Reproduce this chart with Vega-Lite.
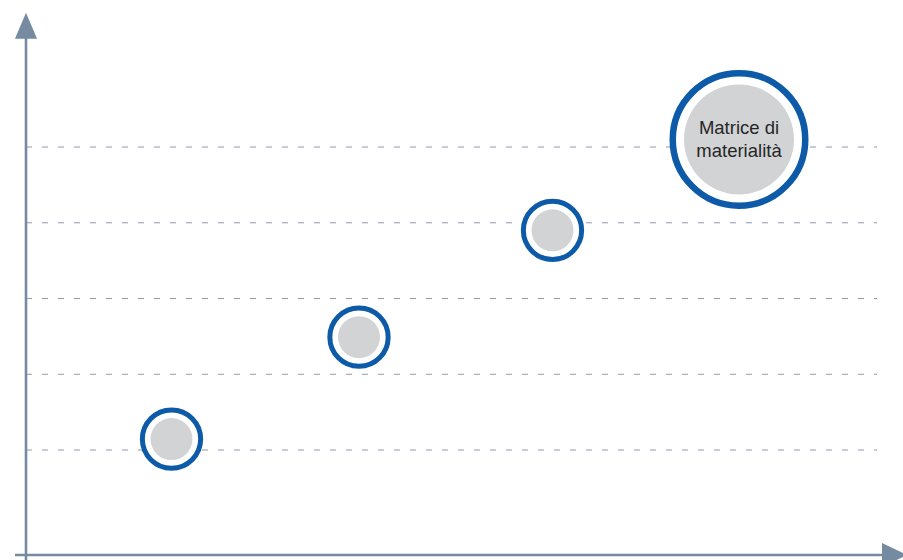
{
  "$schema": "https://vega.github.io/schema/vega-lite/v6.json",
  "width": 903,
  "height": 560,
  "padding": 0,
  "autosize": {"type": "none"},
  "background": "white",
  "config": {"view": {"stroke": null}},
  "datasets": {
    "tappe": [
      {"nome": "tappa 1", "tipo": "tappa", "x": 1.715, "y": 1.145},
      {"nome": "tappa 2", "tipo": "tappa", "x": 3.59, "y": 2.49},
      {"nome": "tappa 3", "tipo": "tappa", "x": 5.525, "y": 3.9},
      {"nome": "Matrice di\nmaterialità", "tipo": "matrice", "x": 7.39, "y": 5.1}
    ],
    "griglia": [{"livello": 1}, {"livello": 2}, {"livello": 3}, {"livello": 4}, {"livello": 5}]
  },
  "layer": [
    {
      "data": {"name": "griglia"},
      "mark": {"type": "rule", "stroke": "#8a9bae", "strokeWidth": 1, "strokeDash": [6, 10]},
      "encoding": {
        "y": {"field": "livello", "type": "quantitative", "scale": {"domain": [-0.452, 6.941], "nice": false, "zero": false}, "axis": null},
        "x": {"datum": 0.26, "type": "quantitative", "scale": {"domain": [0, 9.03], "nice": false, "zero": false}, "axis": null},
        "x2": {"datum": 8.77}
      }
    },
    {
      "data": {"values": [{}]},
      "mark": {"type": "rule", "stroke": "#768ba1", "strokeWidth": 2.6},
      "encoding": {
        "x": {"datum": 0.26, "type": "quantitative", "scale": {"domain": [0, 9.03], "nice": false, "zero": false}, "axis": null},
        "y": {"datum": -0.452, "type": "quantitative", "scale": {"domain": [-0.452, 6.941], "nice": false, "zero": false}, "axis": null},
        "y2": {"datum": 6.45}
      }
    },
    {
      "data": {"values": [{}]},
      "mark": {"type": "rule", "stroke": "#768ba1", "strokeWidth": 2.6},
      "encoding": {
        "y": {"datum": -0.386, "type": "quantitative", "scale": {"domain": [-0.452, 6.941], "nice": false, "zero": false}, "axis": null},
        "x": {"datum": 0.15, "type": "quantitative", "scale": {"domain": [0, 9.03], "nice": false, "zero": false}, "axis": null},
        "x2": {"datum": 8.85}
      }
    },
    {
      "data": {"values": [{}]},
      "mark": {"type": "point", "shape": "M0,-1L-0.85,1L0.85,1Z", "filled": true, "fill": "#768ba1", "opacity": 1, "size": 676, "strokeWidth": 0},
      "encoding": {
        "x": {"datum": 0.26, "type": "quantitative", "scale": {"domain": [0, 9.03], "nice": false, "zero": false}, "axis": null},
        "y": {"datum": 6.6, "type": "quantitative", "scale": {"domain": [-0.452, 6.941], "nice": false, "zero": false}, "axis": null}
      }
    },
    {
      "data": {"values": [{}]},
      "mark": {"type": "point", "shape": "M1,0L-1,-0.96L-1,0.96Z", "filled": true, "fill": "#768ba1", "opacity": 1, "size": 625, "strokeWidth": 0},
      "encoding": {
        "x": {"datum": 8.945, "type": "quantitative", "scale": {"domain": [0, 9.03], "nice": false, "zero": false}, "axis": null},
        "y": {"datum": -0.386, "type": "quantitative", "scale": {"domain": [-0.452, 6.941], "nice": false, "zero": false}, "axis": null}
      }
    },
    {
      "data": {"name": "tappe"},
      "transform": [{"filter": "datum.tipo === 'tappa'"}],
      "mark": {"type": "circle", "fill": "white", "stroke": "#0d5ba8", "strokeWidth": 5, "opacity": 1, "size": 3400},
      "encoding": {
        "x": {"field": "x", "type": "quantitative", "scale": {"domain": [0, 9.03], "nice": false, "zero": false}, "axis": null},
        "y": {"field": "y", "type": "quantitative", "scale": {"domain": [-0.452, 6.941], "nice": false, "zero": false}, "axis": null}
      }
    },
    {
      "data": {"name": "tappe"},
      "transform": [{"filter": "datum.tipo === 'tappa'"}],
      "mark": {"type": "circle", "fill": "#d2d3d5", "opacity": 1, "size": 1764, "strokeWidth": 0},
      "encoding": {
        "x": {"field": "x", "type": "quantitative", "scale": {"domain": [0, 9.03], "nice": false, "zero": false}, "axis": null},
        "y": {"field": "y", "type": "quantitative", "scale": {"domain": [-0.452, 6.941], "nice": false, "zero": false}, "axis": null}
      }
    },
    {
      "data": {"name": "tappe"},
      "transform": [{"filter": "datum.tipo === 'matrice'"}],
      "mark": {"type": "circle", "fill": "white", "stroke": "#0d5ba8", "strokeWidth": 6.5, "opacity": 1, "size": 17556},
      "encoding": {
        "x": {"field": "x", "type": "quantitative", "scale": {"domain": [0, 9.03], "nice": false, "zero": false}, "axis": null},
        "y": {"field": "y", "type": "quantitative", "scale": {"domain": [-0.452, 6.941], "nice": false, "zero": false}, "axis": null}
      }
    },
    {
      "data": {"name": "tappe"},
      "transform": [{"filter": "datum.tipo === 'matrice'"}],
      "mark": {"type": "circle", "fill": "#d2d3d5", "opacity": 1, "size": 12100, "strokeWidth": 0},
      "encoding": {
        "x": {"field": "x", "type": "quantitative", "scale": {"domain": [0, 9.03], "nice": false, "zero": false}, "axis": null},
        "y": {"field": "y", "type": "quantitative", "scale": {"domain": [-0.452, 6.941], "nice": false, "zero": false}, "axis": null}
      }
    },
    {
      "data": {"name": "tappe"},
      "transform": [{"filter": "datum.tipo === 'matrice'"}],
      "mark": {"type": "text", "font": "Liberation Sans", "fontSize": 18.5, "lineHeight": 23, "lineBreak": "\n", "align": "center", "baseline": "middle", "dy": -11, "fill": "#262626"},
      "encoding": {
        "x": {"field": "x", "type": "quantitative", "scale": {"domain": [0, 9.03], "nice": false, "zero": false}, "axis": null},
        "y": {"field": "y", "type": "quantitative", "scale": {"domain": [-0.452, 6.941], "nice": false, "zero": false}, "axis": null},
        "text": {"field": "nome"}
      }
    }
  ]
}
